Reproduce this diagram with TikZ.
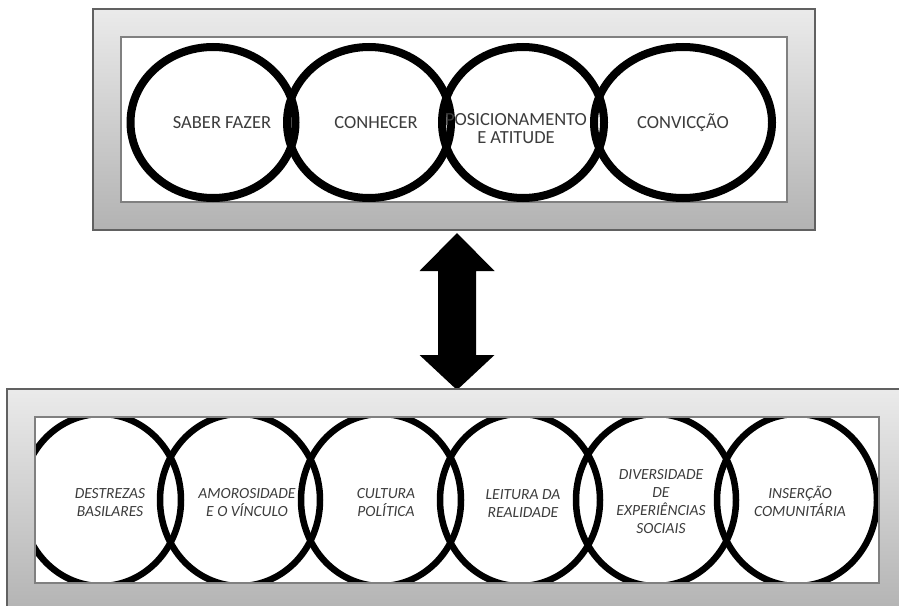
\documentclass[tikz,border=0pt]{standalone}
\usepackage{fontspec}
\setmainfont{Carlito}
\usetikzlibrary{shapes.geometric}
\definecolor{txt}{HTML}{3C3C3C}
\tikzset{
  outerbox/.style={draw=black!62, line width=1.3pt, top color=black!8, bottom color=black!30},
  innerbox/.style={draw=black!50, line width=1.5pt, fill=white},
  topring/.style={ellipse, draw=black, line width=8pt, inner sep=0pt},
  botring/.style={ellipse, draw=black, line width=6.5pt, inner sep=0pt, minimum width=160pt, minimum height=172pt},
  toplabel/.style={anchor=base, align=center, text=txt, font=\fontsize{18.5}{17.5}\selectfont, inner sep=0pt},
  botlabel/.style={anchor=base, align=center, text=txt, font=\itshape\fontsize{15.5}{18}\selectfont, inner sep=0pt},
}
\begin{document}
\begin{tikzpicture}[x=1pt,y=-1pt]
\useasboundingbox (0,0) rectangle (899,605);
% top group
\path[outerbox] (93,9) rectangle (815,230);
\path[innerbox] (121,37) rectangle (787,202);
\node[topring, minimum width=165pt, minimum height=151pt] (a1) at (213,122.5) {};
\node[topring, minimum width=164pt, minimum height=151pt] (a2) at (369,122.5) {};
\node[topring, minimum width=162pt, minimum height=151pt] (a3) at (523,122.5) {};
\node[topring, minimum width=178pt, minimum height=151pt] (a4) at (683,122.5) {};
\node[toplabel] (la1) at (222,128) {SABER FAZER};
\node[toplabel] (la2) at (376,128) {CONHECER};
\node[toplabel] (la3) at (516,143) {POSICIONAMENTO\\E ATITUDE};
\node[toplabel] (la4) at (683,128) {CONVICÇÃO};
% arrow
\coordinate (up) at (457,233);
\coordinate (dn) at (457,390);
\fill[black] (up) -- ++(37.5,38) -- ++(-18.5,0) -- ++(0,84) -- ++(18.5,0)
  -- (dn) -- ++(-37.5,-35) -- ++(18.5,0) -- ++(0,-84) -- ++(-18.5,0) -- cycle;
% bottom group
\path[outerbox] (7,389) rectangle (910,615);
\path[innerbox] (35,417) rectangle (879,583);
\begin{scope}
\clip (35,417) rectangle (879,583);
\node[botring] (b1) at (101,500) {};
\node[botring] (b2) at (240,500) {};
\node[botring] (b3) at (381,500) {};
\node[botring] (b4) at (520,500) {};
\node[botring] (b5) at (656,500) {};
\node[botring] (b6) at (797,500) {};
\end{scope}
\draw[draw=black!50, line width=1.5pt] (35,417) rectangle (879,583);
\node[botlabel] (lb1) at (110,516) {DESTREZAS\\BASILARES};
\node[botlabel] (lb2) at (247,516) {AMOROSIDADE\\E O VÍNCULO};
\node[botlabel] (lb3) at (386,516) {CULTURA\\POLÍTICA};
\node[botlabel] (lb4) at (523,517) {LEITURA DA\\REALIDADE};
\node[botlabel] (lb5) at (661,533) {DIVERSIDADE\\DE\\EXPERIÊNCIAS\\SOCIAIS};
\node[botlabel] (lb6) at (800,516) {INSERÇÃO\\COMUNITÁRIA};
\end{tikzpicture}
\end{document}
